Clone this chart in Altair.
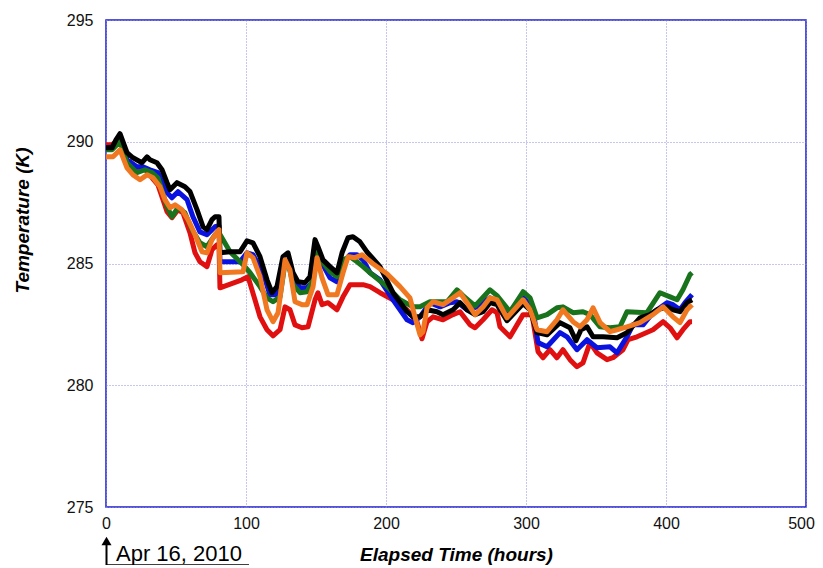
import altair as alt
import pandas as pd

# ---- data (hours, Kelvin) ----
black_h = [0, 4.3, 7.1, 10, 15, 19.3, 25.7, 29.3, 31.4, 36.4, 40, 43.6, 45.7, 50.7, 56.4, 60, 65, 69.3, 72.1, 75.7, 77.9, 80.7,
           81.4, 88.6, 95.7, 100.7, 105, 110, 115, 118.6, 122.1, 126.4, 130, 133.6, 137.1, 142.1, 145.7, 149.3, 151.4, 155,
           160, 165, 168.6, 172.9, 176.4, 181.4, 186.4, 195.7, 205, 215, 219.3, 224.3, 229.3, 236.4, 240.7, 247.9, 252.9,
           257.9, 263.6, 269.3, 274.3, 279.3, 286.4, 297.9, 302.9, 307.9, 315, 324.3, 331.4, 335.7, 339.3, 343.6, 347.9,
           355, 365, 372.1, 381.4, 388.6, 393.6, 400.7, 405, 410, 415, 418.6]
black_k = [289.75, 289.75, 290.08, 290.33, 289.55, 289.34, 289.14, 289.38, 289.26, 289.14, 288.85, 288.32, 288.03, 288.32,
           288.15, 287.95, 287.21, 286.51, 286.39, 286.80, 286.92, 286.92, 285.44, 285.48, 285.48, 285.93, 285.85, 285.28,
           284.33, 283.80, 284.05, 285.28, 285.44, 284.62, 284.25, 284.21, 284.46, 285.98, 285.69, 285.15, 284.87, 284.62,
           285.44, 286.06, 286.10, 285.89, 285.48, 284.87, 283.80, 283.02, 282.81, 282.81, 283.10, 283.02, 282.90, 283.10,
           283.39, 283.10, 282.90, 283.02, 283.39, 283.31, 282.65, 283.35, 283.10, 282.16, 282.07, 282.57, 282.36, 281.83,
           282.28, 282.40, 281.99, 281.99, 281.95, 282.16, 282.77, 282.90, 283.10, 283.22, 283.10, 283.02, 283.39, 283.51]

blue_h = [0, 4.3, 8.6, 11.4, 15, 22.1, 26.4, 31.4, 37.1, 43.6, 47.1, 51.4, 57.9, 62.1, 67.1, 72.1, 77.9, 80.7, 81.4, 95.7,
          100.7, 105, 112.1, 117.1, 122.1, 126.4, 130, 133.6, 138.6, 143.6, 147.1, 149.3, 152.9, 160, 165, 169.3, 174.3,
          179.3, 183.6, 188.6, 195.7, 205, 215, 219.3, 224.3, 231.4, 238.6, 245.7, 250.7, 257.9, 265, 274.3, 279.3, 286.4,
          297.9, 305, 308.6, 315, 324.3, 329.3, 336.4, 343.6, 350.7, 360, 365, 372.1, 376.4, 383.6, 390.7, 400.7, 405, 410,
          413.6, 418.6]
blue_k = [289.75, 289.79, 290.08, 290.0, 289.26, 288.97, 288.97, 288.85, 288.73, 287.91, 287.70, 287.95, 287.62, 286.92,
          286.30, 286.18, 286.51, 286.55, 285.07, 285.07, 285.44, 285.36, 284.62, 283.72, 283.72, 284.87, 284.95, 284.41,
          284.00, 284.00, 284.21, 285.48, 285.15, 284.41, 284.25, 285.03, 285.36, 285.36, 285.15, 284.62, 284.33, 283.51,
          282.69, 282.57, 282.81, 283.39, 283.22, 283.39, 283.43, 283.10, 283.22, 283.59, 283.43, 282.90, 283.63, 283.10,
          281.75, 281.58, 282.16, 281.99, 281.46, 281.87, 281.54, 281.58, 281.33, 281.99, 282.48, 282.48, 282.98, 283.39,
          283.31, 283.10, 283.39, 283.72]

green_h = [0, 4.3, 10, 15, 22.1, 27.9, 32.9, 37.1, 43.6, 47.1, 51.4, 56.4, 61.4, 67.1, 72.1, 77.9, 80.7, 88.6, 97.9, 102.9,
           110, 115, 119.3, 124.3, 127.9, 130, 133.6, 138.6, 143.6, 147.9, 150.7, 155, 160, 165, 169.3, 174.3, 179.3, 183.6,
           188.6, 200.7, 210, 219.3, 224.3, 231.4, 243.6, 250.7, 255, 263.6, 274.3, 279.3, 288.6, 297.9, 302.9, 307.9, 315,
           322.1, 326.4, 333.6, 340.7, 345.7, 352.9, 360, 367.1, 372.1, 386.4, 395.7, 402.9, 407.9, 412.1, 417.1, 418.6]
green_k = [289.67, 289.67, 290.0, 289.14, 288.73, 288.85, 288.73, 288.52, 287.33, 286.92, 287.29, 287.08, 286.39, 285.85,
           285.69, 286.18, 286.26, 285.48, 284.95, 284.62, 284.05, 283.59, 283.43, 283.63, 285.03, 285.07, 284.13, 283.80,
           283.84, 284.33, 285.44, 285.03, 284.66, 284.46, 285.15, 285.28, 285.07, 284.87, 284.62, 284.05, 283.51, 283.22,
           283.22, 283.43, 283.43, 283.92, 283.68, 283.26, 283.92, 283.68, 283.02, 283.84, 283.59, 282.77, 282.90, 283.18,
           283.22, 282.98, 283.02, 282.90, 282.40, 282.36, 282.40, 283.02, 282.98, 283.80, 283.63, 283.51, 283.92, 284.54,
           284.62]

orange_h = [0, 5, 10, 15, 19.3, 24.3, 29.3, 33.6, 38.6, 42.1, 45.7, 49.3, 54.3, 58.6, 63.6, 68.6, 72.1, 75.7, 79.3, 80.7,
            81.4, 97.9, 100.7, 105, 110, 115, 119.3, 122.9, 127.9, 131.4, 135, 140, 143.6, 147.9, 150.7, 154.3, 158.6, 165,
            169.3, 172.9, 177.9, 182.9, 190.7, 200.7, 210, 217.1, 220.7, 224.3, 226.4, 229.3, 233.6, 240.7, 247.9, 252.9,
            257.9, 263.6, 269.3, 274.3, 279.3, 286.4, 297.9, 302.9, 307.9, 315, 322.1, 326.4, 333.6, 338.6, 343.6, 347.9,
            352.9, 360, 365, 372.1, 381.4, 390.7, 397.9, 405, 410, 415, 418.6]
orange_k = [289.38, 289.38, 289.67, 288.93, 288.64, 288.44, 288.64, 288.52, 288.15, 287.62, 287.29, 287.41, 287.21, 286.80,
            286.18, 285.48, 285.44, 285.98, 286.30, 286.39, 284.62, 284.66, 285.44, 285.24, 284.46, 283.10, 282.61, 282.98,
            285.15, 284.74, 283.43, 283.31, 283.31, 284.05, 285.24, 284.41, 283.72, 283.72, 284.62, 285.28, 285.24, 285.36,
            284.99, 284.58, 284.05, 283.59, 282.81, 282.07, 282.20, 283.18, 283.43, 283.31, 283.59, 283.80, 283.39, 282.90,
            283.22, 283.59, 283.51, 282.77, 283.51, 283.10, 282.28, 282.20, 282.69, 283.10, 282.61, 282.40, 282.69, 283.18,
            282.57, 282.20, 282.28, 282.40, 282.57, 282.90, 283.22, 282.81, 282.57, 283.10, 283.31]

red_h = [0, 4.3, 10, 15, 22.1, 27.9, 32.9, 37.1, 40.7, 43.6, 47.1, 51.4, 55, 60, 63.6, 67.1, 72.1, 75.7, 79.3, 80.7, 81.4,
         97.1, 101.4, 106.4, 110, 115, 119.3, 124.3, 127.9, 131.4, 135, 140, 144.3, 149.3, 151.4, 154.3, 158.6, 165, 169.3,
         174.3, 183.6, 188.6, 195.7, 205, 215, 222.1, 225.7, 229.3, 233.6, 240.7, 247.9, 252.9, 260, 263.6, 269.3, 275.7,
         279.3, 281.4, 288.6, 297.9, 304.3, 308.6, 312.1, 317.1, 322.1, 326.4, 331.4, 336.4, 340.7, 345.7, 350.7, 357.9,
         362.1, 369.3, 372.9, 379.3, 390.7, 397.9, 402.9, 407.9, 412.1, 417.1, 418.6]
red_k = [289.88, 289.88, 290.1, 289.26, 288.93, 288.89, 288.52, 288.23, 287.62, 287.13, 286.88, 287.21, 287.08, 286.26,
         285.44, 285.07, 284.87, 285.56, 285.77, 285.77, 284.00, 284.33, 284.46, 283.51, 282.81, 282.28, 282.03, 282.28,
         283.22, 283.10, 282.48, 282.36, 282.40, 283.51, 283.80, 283.31, 283.39, 283.10, 283.63, 284.13, 284.13, 284.05,
         283.80, 283.51, 283.10, 282.61, 281.91, 282.61, 282.81, 282.69, 282.90, 283.02, 282.48, 282.36, 282.69, 283.10,
         282.98, 282.40, 281.99, 282.90, 282.90, 281.38, 281.13, 281.46, 281.13, 281.46, 281.05, 280.76, 280.92, 281.75,
         281.33, 281.05, 281.13, 281.46, 281.87, 281.99, 282.28, 282.61, 282.36, 281.95, 282.28, 282.61, 282.61]

series_names = ["red", "blue", "green", "black", "orange"]
series_colors = ["#e01010", "#0a12e0", "#18731c", "#000000", "#f07820"]
x_ticks = [0, 100, 200, 300, 400, 500]
y_ticks = [275, 280, 285, 290, 295]

rows = []
for order, (name, hs, ks) in enumerate([("red", red_h, red_k), ("blue", blue_h, blue_k), ("green", green_h, green_k),
                                         ("black", black_h, black_k), ("orange", orange_h, orange_k)]):
    for i, (h, k) in enumerate(zip(hs, ks)):
        rows.append({"series": name, "hours": h, "temp": k, "idx": i, "ord": order})
df = pd.DataFrame(rows)

W, H = 700, 487

x_scale = alt.Scale(domain=[0, 500], nice=False)
y_scale = alt.Scale(domain=[275, 295], nice=False, zero=False)

lines = alt.Chart(df).mark_line(strokeWidth=5, strokeJoin="round", clip=True).encode(
    x=alt.X("hours:Q", scale=x_scale,
            axis=alt.Axis(values=x_ticks, title="Elapsed Time (hours)", grid=True, ticks=False, tickSize=0,
                          domain=False, labelPadding=8, labelFontSize=16, labelFont="Liberation Sans",
                          labelColor="#111111", titleFont="Liberation Sans", titleFontSize=19,
                          titleFontStyle="italic", titleFontWeight="bold", titleColor="#000000",
                          titleY=53, titleBaseline="alphabetic",
                          labelOffset={"condition": {"test": "datum.value == 500", "value": -5}, "value": 0},
                          gridColor="#8c8ce0", gridDash=[1, 2], gridWidth=1, labelFlush=False)),
    y=alt.Y("temp:Q", scale=y_scale,
            axis=alt.Axis(values=y_ticks, title="Temperature (K)", grid=True, ticks=False, tickSize=0,
                          domain=False, labelPadding=13, labelFontSize=16, labelFont="Liberation Sans",
                          labelColor="#111111", titleFont="Liberation Sans", titleFontSize=19,
                          titleFontStyle="italic", titleFontWeight="bold", titleColor="#000000",
                          titleX=-84, titleY=200, titleBaseline="middle", titleAngle=270,
                          gridColor="#8c8ce0", gridDash=[1, 2], gridWidth=1, labelFlush=False)),
    color=alt.Color("series:N", scale=alt.Scale(domain=series_names, range=series_colors), legend=None),
    detail="series:N",
    order=alt.Order("idx:Q"),
)

# annotation below the axis: arrow pointing at t=0, date label, underline
ann_df = pd.DataFrame({"label": ["Apr 16, 2010"]})
ann_text = alt.Chart(ann_df).mark_text(align="left", baseline="alphabetic", fontSize=22,
                                       font="Liberation Sans", color="#000000").encode(
    text="label:N", x=alt.value(10), y=alt.value(541))
arrow_shaft = alt.Chart(ann_df).mark_rule(color="#000000", strokeWidth=2).encode(
    x=alt.value(0.5), y=alt.value(520), y2=alt.value(546))
arrow_head = alt.Chart(ann_df).mark_point(shape="triangle-up", filled=True, size=100, color="#000000",
                                          opacity=1).encode(x=alt.value(0.5), y=alt.value(521))
underline = alt.Chart(ann_df).mark_rule(color="#000000", strokeWidth=1.5).encode(
    x=alt.value(0), x2=alt.value(143), y=alt.value(545))

chart = alt.layer(lines, ann_text, arrow_shaft, arrow_head, underline).properties(
    width=W, height=H,
    autosize=alt.AutoSizeParams(type="none"),
    padding={"left": 98, "top": 12, "right": 9, "bottom": 58},
).configure(background="#ffffff").configure_view(stroke="#1a1ad0", strokeWidth=1.5)

chart.save("out.html", embed_options={"renderer": "svg", "actions": False})
